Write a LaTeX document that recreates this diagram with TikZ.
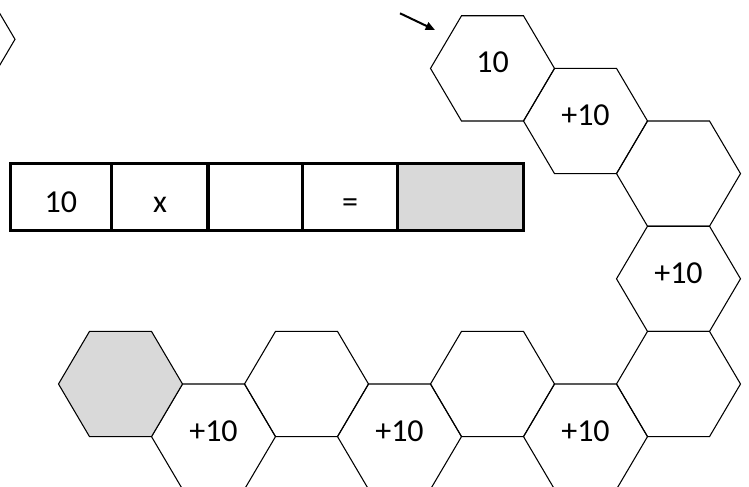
\documentclass[tikz,border=0pt]{standalone}
\usepackage{fontspec}
\setmainfont{Carlito}
\usetikzlibrary{shapes.geometric,arrows.meta}
\definecolor{cellgray}{HTML}{D9D9D9}
\begin{document}
\begin{tikzpicture}[x=0.75pt,y=-0.75pt,
  hexcell/.style={regular polygon, regular polygon sides=6, minimum size=93pt,
    inner sep=0pt, outer sep=0pt, draw=black, line width=0.8pt, yscale=0.98, transform shape},
  boxcell/.style={rectangle, draw=black, line width=2.25pt, inner sep=0pt, outer sep=0pt,
    minimum height=50.6pt},
  num/.style={anchor=base, font=\fontsize{24}{28}\selectfont, inner sep=0pt, yshift=-3.4pt},
  cellnum/.style={anchor=base, font=\fontsize{24}{28}\selectfont, inner sep=0pt},
  pointer/.style={line width=1.5pt, -{Triangle[length=7pt,width=6pt]}}]
\useasboundingbox (0,0) rectangle (749,486);
\clip (0,0) rectangle (749,486);
% hexagon path
\node[hexcell] (h0) at (-47,39.3) {};
\node[hexcell] (h1) at (492.5,68.4) {};
\node[hexcell] (h2) at (585.5,121) {};
\node[hexcell] (h3) at (678.5,173.6) {};
\node[hexcell] (h4) at (678.5,278.8) {};
\node[hexcell] (h5) at (678.5,384) {};
\node[hexcell] (h6) at (585.5,436.6) {};
\node[hexcell] (h7) at (492.5,384) {};
\node[hexcell] (h8) at (399.5,436.6) {};
\node[hexcell] (h9) at (306.5,384) {};
\node[hexcell] (h10) at (213.5,436.6) {};
\node[hexcell, fill=cellgray] (h11) at (120.5,384) {};
\node[num] (t1) at (h1) {10};
\node[num] (t2) at (h2) {+10};
\node[num] (t4) at (h4) {+10};
\node[num] (t6) at (h6) {+10};
\node[num] (t8) at (h8) {+10};
\node[num] (t10) at (h10) {+10};
% arrow
\coordinate (a0) at (400,13.3);
\coordinate (a1) at (435,30);
\draw[pointer] (a0) -- (a1);
% table
\node[boxcell, minimum width=76.1pt] (c1) at (60.75,197.25) {};
\node[boxcell, minimum width=72.4pt] (c2) at (159.75,197.25) {};
\node[boxcell, minimum width=70.9pt] (c3) at (255.25,197.25) {};
\node[boxcell, minimum width=71.25pt] (c4) at (350,197.25) {};
\node[boxcell, minimum width=94.5pt, fill=cellgray] (c5) at (460.5,197.25) {};
\node[cellnum] (ct1) at (60.75,212) {10};
\node[cellnum] (ct2) at (160,212) {x};
\node[cellnum] (ct4) at (350,212) {=};
\end{tikzpicture}
\end{document}
